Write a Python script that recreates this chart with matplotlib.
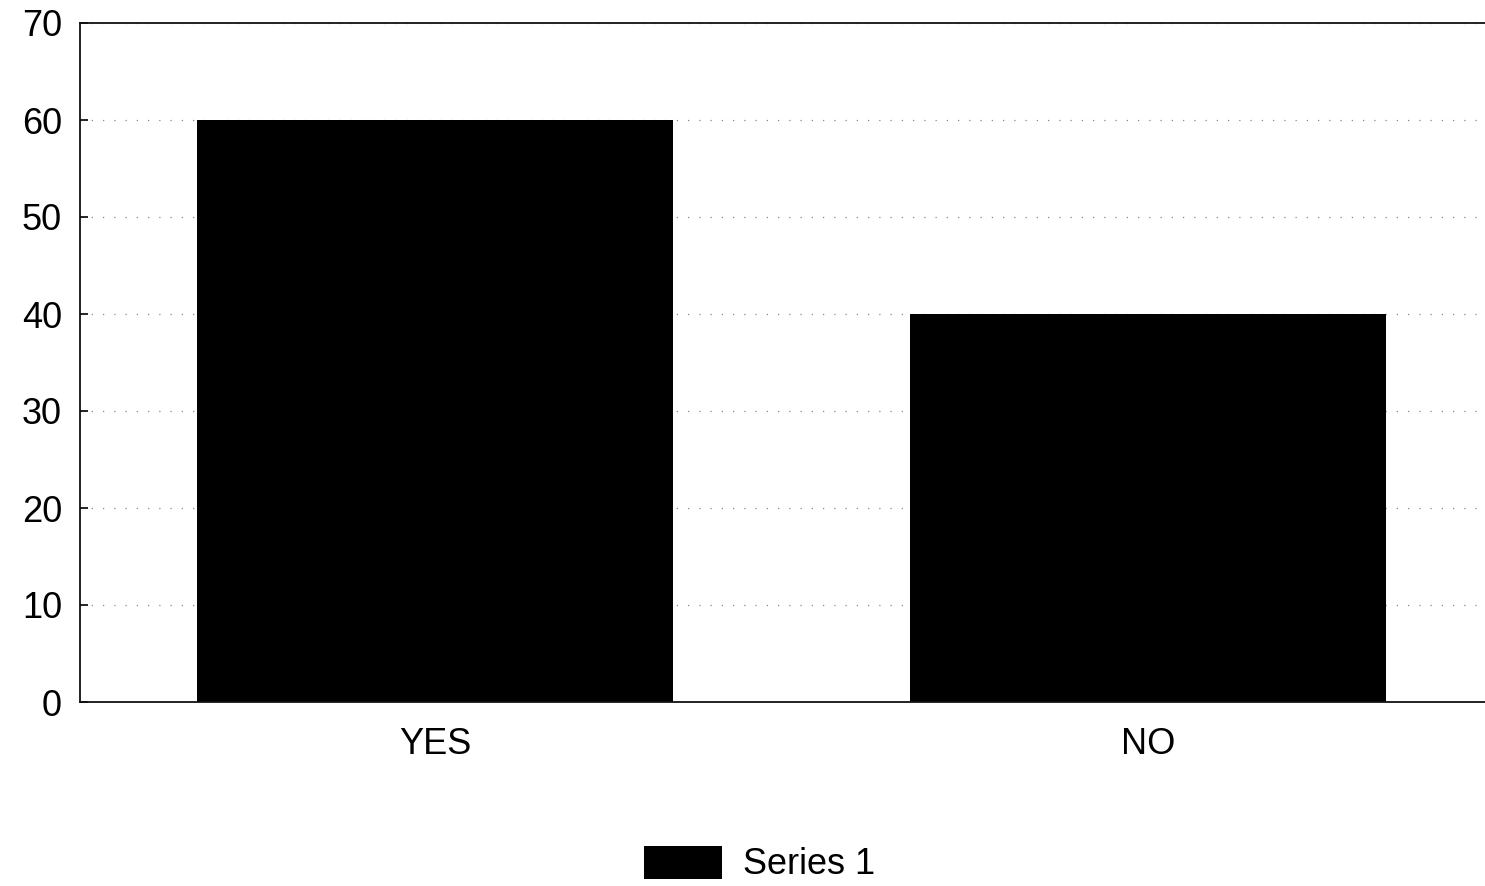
import matplotlib

matplotlib.use("Agg")
import matplotlib.pyplot as plt

categories = ["YES", "NO"]
series_1 = [60, 40]
y_ticks = [0, 10, 20, 30, 40, 50, 60, 70]

plt.rcParams["font.family"] = ["Liberation Sans", "DejaVu Sans"]

fig = plt.figure(figsize=(14.85, 8.86), dpi=100)
ax = fig.add_axes([80 / 1485, 1 - 702 / 886, 1 - 80 / 1485, (702 - 23) / 886])

positions = range(len(categories))
ax.bar(positions, series_1, width=0.668, color="black", label="Series 1", zorder=2)

ax.set_xlim(-0.498, 1.473)
ax.set_ylim(0, 70)
ax.set_yticks(y_ticks)
ax.set_xticks(list(positions))
ax.set_xticklabels(categories)

ax.grid(axis="y", linestyle=(0, (1, 8)), color="#888888", linewidth=0.9, zorder=1)
ax.tick_params(axis="y", direction="in", length=6, width=1.2, pad=13, labelsize=26)
ax.tick_params(axis="x", length=0, pad=18, labelsize=26)

for side in ("left", "top", "bottom"):
    ax.spines[side].set_color("#111111")
    ax.spines[side].set_linewidth(1.3)
ax.spines["right"].set_visible(False)

fig.legend(
    loc="lower center",
    bbox_to_anchor=(760 / 1485, 0.0),
    frameon=False,
    fontsize=26,
    handlelength=2.14,
    handleheight=1.03,
    handletextpad=0.6,
    borderaxespad=0.0,
    borderpad=0.1,
)

fig.savefig("out.png", dpi=100)
plt.close(fig)
